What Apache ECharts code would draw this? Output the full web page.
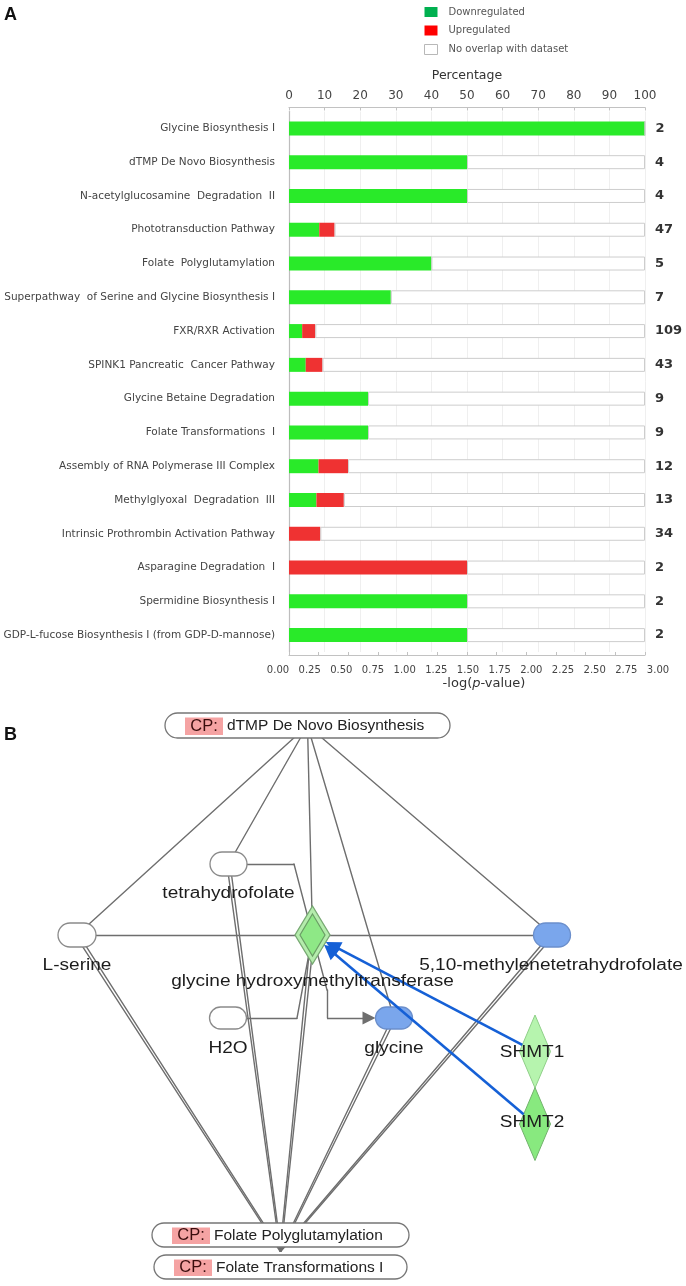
<!DOCTYPE html>
<html><head><meta charset="utf-8">
<script src="https://cdn.jsdelivr.net/npm/echarts@6/dist/echarts.min.js"></script>
<style>html,body{margin:0;padding:0;background:#fff}#c{width:686px;height:1286px}</style>
</head><body><div id="c"></div>
<script>
// ---------------- Panel A data ----------------
const pathways = [
  'Glycine Biosynthesis I',
  'dTMP De Novo Biosynthesis',
  'N-acetylglucosamine  Degradation  II',
  'Phototransduction Pathway',
  'Folate  Polyglutamylation',
  'Superpathway  of Serine and Glycine Biosynthesis I',
  'FXR/RXR Activation',
  'SPINK1 Pancreatic  Cancer Pathway',
  'Glycine Betaine Degradation',
  'Folate Transformations  I',
  'Assembly of RNA Polymerase III Complex',
  'Methylglyoxal  Degradation  III',
  'Intrinsic Prothrombin Activation Pathway',
  'Asparagine Degradation  I',
  'Spermidine Biosynthesis I',
  'GDP-L-fucose Biosynthesis I (from GDP-D-mannose)'
];
const downregulatedPct = [100, 50, 50, 8.5, 40, 28.6, 3.7, 4.7, 22.2, 22.2, 8.3, 7.7, 0, 0, 50, 50];
const upregulatedPct   = [0, 0, 0, 4.3, 0, 0, 3.7, 4.7, 0, 0, 8.3, 7.7, 8.8, 50, 0, 0];
const pathwayTotals    = [2, 4, 4, 47, 5, 7, 109, 43, 9, 9, 12, 13, 34, 2, 2, 2];
const noOverlapPct = downregulatedPct.map((d, i) => +(100 - d - upregulatedPct[i]).toFixed(2));
const percentRange = [0, 100];
const pValueRange = [0, 3];

// ---------------- Panel B data ----------------
const nodeIds    = ['cpTop', 'thf', 'ser', 'ghmt', 'mthf', 'h2o', 'gly', 'shmt1', 'shmt2', 'cpPoly', 'cpTrans'];
const nodeLabels = ['dTMP De Novo Biosynthesis', 'tetrahydrofolate', 'L-serine', 'glycine hydroxymethyltransferase',
  '5,10-methylenetetrahydrofolate', 'H2O', 'glycine', 'SHMT1', 'SHMT2', 'Folate Polyglutamylation', 'Folate Transformations I'];
const nodeKinds  = ['pathway', 'chemical', 'chemical', 'enzyme', 'chemical', 'chemical', 'chemical', 'gene', 'gene', 'pathway', 'pathway'];
const nodeState  = ['none', 'none', 'none', 'down', 'measured', 'none', 'measured', 'downLight', 'down', 'none', 'none'];
const dTMPMembers = ['ser', 'thf', 'ghmt', 'gly', 'mthf'];
const folatePolyMembers = ['ser', 'thf', 'ghmt', 'gly', 'mthf'];
const folateTransMembers = ['ser', 'thf', 'ghmt', 'gly', 'mthf'];
const reactionEdges = [['ser', 'ghmt'], ['ghmt', 'mthf'], ['thf', 'ghmt'], ['h2o', 'ghmt']];
const productEdges = [['ghmt', 'gly']];
const regulationEdges = [['shmt1', 'ghmt'], ['shmt2', 'ghmt']];

// diagram layout (diagram coordinate space, mapped through hidden axes)
const nodeLayout = {
  cpTop:  {x: 307.5, y: 725.5, w: 285, h: 25},
  thf:    {x: 228.5, y: 864,   w: 37,  h: 24},
  ser:    {x: 77,    y: 935,   w: 38,  h: 24},
  ghmt:   {x: 312.5, y: 935,   w: 35,  h: 58},
  mthf:   {x: 552,   y: 935,   w: 37,  h: 24},
  h2o:    {x: 228,   y: 1018,  w: 37,  h: 22},
  gly:    {x: 394,   y: 1018,  w: 37,  h: 22},
  shmt1:  {x: 535,   y: 1051.5,w: 31,  h: 73},
  shmt2:  {x: 535,   y: 1124,  w: 31,  h: 73},
  cpPoly: {x: 280.5, y: 1235,  w: 257, h: 24},
  cpTrans:{x: 280.5, y: 1267,  w: 253, h: 24}
};
const labelOffset = {thf: [0, 30], ser: [0, 31], ghmt: [0, 47], mthf: [-1, 31], h2o: [0, 31], gly: [0, 31], shmt1: [-3, 1.5], shmt2: [-3, -1]};
const edgeBends = {'thf>ghmt': [[294, 864]], 'h2o>ghmt': [[297, 1018]], 'ghmt>gly': [[327, 990], [327, 1018]]};

const stateFill = {none: '#ffffff', measured: '#7aa6ec', down: '#88e97f', downLight: '#b6f4ae'};
const stateStroke = {none: '#8a8a8a', measured: '#6b8fcc', down: '#72b26c', downLight: '#8fcf88'};

// ---------- geometry helpers ----------
function ctr(id) { const L = nodeLayout[id]; return [L.x, L.y]; }
function shapeOf(id) { const k = nodeKinds[nodeIds.indexOf(id)]; return (k === 'enzyme' || k === 'gene') ? 'diamond' : 'rect'; }
function boundary(id, toward) {
  const L = nodeLayout[id];
  const dx = toward[0] - L.x, dy = toward[1] - L.y, len = Math.hypot(dx, dy);
  const ux = dx / len, uy = dy / len;
  let t;
  if (shapeOf(id) === 'diamond') t = 1 / (Math.abs(ux) / (L.w / 2) + Math.abs(uy) / (L.h / 2));
  else t = Math.min(Math.abs(ux) > 1e-9 ? (L.w / 2) / Math.abs(ux) : Infinity, Math.abs(uy) > 1e-9 ? (L.h / 2) / Math.abs(uy) : Infinity);
  return [L.x + ux * t, L.y + uy * t];
}
function pathPoints(a, b) {
  return [ctr(a)].concat(edgeBends[a + '>' + b] || []).concat([ctr(b)]);
}
const greySegs = [], greyArrowSegs = [], blueArrowSegs = [];
function pushPath(pts, plainList, arrowList, arrowLen, clipStartId, endId) {
  const n = pts.length;
  if (clipStartId) pts[0] = boundary(clipStartId, pts[1]);
  for (let i = 0; i < n - 2; i++) plainList.push({coords: [pts[i], pts[i + 1]]});
  const prev = pts[n - 2];
  if (arrowList) {
    const tip = boundary(endId, prev);
    const dx = tip[0] - prev[0], dy = tip[1] - prev[1], len = Math.hypot(dx, dy);
    const end = [tip[0] - dx / len * arrowLen / 2, tip[1] - dy / len * arrowLen / 2];
    arrowList.push({coords: [prev, end]});
  } else plainList.push({coords: [prev, pts[n - 1]]});
}
// stacked canonical-pathway boxes: edges meet at the centre of the stack, drawn as parallel pair
function pushStackedEdge(member, side) {
  const a = ctr(member);
  const hub = [(nodeLayout.cpPoly.x + nodeLayout.cpTrans.x) / 2, (nodeLayout.cpPoly.y + nodeLayout.cpTrans.y) / 2];
  const dx = hub[0] - a[0], dy = hub[1] - a[1], len = Math.hypot(dx, dy);
  const px = -dy / len * 1.6 * side, py = dx / len * 1.6 * side;
  greySegs.push({coords: [[a[0] + px, a[1] + py], [hub[0] + px * 0.3, hub[1] + py * 0.3]]});
}
dTMPMembers.forEach(m => pushPath(pathPoints('cpTop', m), greySegs));
folatePolyMembers.forEach(m => pushStackedEdge(m, -1));
folateTransMembers.forEach(m => pushStackedEdge(m, 1));
reactionEdges.forEach(([a, b]) => pushPath(pathPoints(a, b), greySegs));
productEdges.forEach(([a, b]) => pushPath(pathPoints(a, b), greySegs, greyArrowSegs, 13, null, b));
regulationEdges.forEach(([a, b]) => pushPath(pathPoints(a, b), blueArrowSegs, blueArrowSegs, 15, a, b));

const LABEL_FONT = '16px "Liberation Sans", Arial, sans-serif';

function renderNode(params, api) {
  const i = params.dataIndex, id = nodeIds[i], L = nodeLayout[id];
  const c = api.coord([api.value(0), api.value(1)]);
  const s = api.size([L.w, L.h], [api.value(0), api.value(1)]);
  const w = Math.abs(s[0]), h = Math.abs(s[1]);
  const kind = nodeKinds[i], st = nodeState[i];
  if (kind === 'pathway') {
    const left = c[0] - w / 2, top = c[1] - h / 2;
    return {type: 'group', children: [
      {type: 'rect', shape: {x: left, y: top, width: w, height: h, r: h / 2}, style: {fill: '#fff', stroke: '#767676', lineWidth: 1.3}},
      {type: 'rect', shape: {x: left + 20, y: top + 4.5, width: 38, height: h - 7.5}, style: {fill: '#f5a3a3'}},
      {type: 'text', style: {text: 'CP:', x: left + 39, y: c[1] + 0.5, align: 'center', verticalAlign: 'middle', font: '16.5px "Liberation Sans", Arial, sans-serif', fill: '#3a0d0d'}},
      {type: 'text', style: {text: nodeLabels[i], x: left + 62, y: c[1] + 0.5, align: 'left', verticalAlign: 'middle', font: '15.5px "Liberation Sans", Arial, sans-serif', fill: '#222'}}
    ]};
  }
  if (kind === 'chemical') {
    return {type: 'rect', shape: {x: c[0] - w / 2, y: c[1] - h / 2, width: w, height: h, r: h / 2},
      style: {fill: stateFill[st], stroke: stateStroke[st], lineWidth: 1.3}};
  }
  const dia = (hw, hh) => [[c[0], c[1] - hh], [c[0] + hw, c[1]], [c[0], c[1] + hh], [c[0] - hw, c[1]]];
  if (kind === 'enzyme') {
    return {type: 'group', children: [
      {type: 'polygon', shape: {points: dia(w / 2, h / 2)}, style: {fill: '#b4ecac', stroke: '#77a872', lineWidth: 1.3}},
      {type: 'polygon', shape: {points: dia(w / 2 - 5, h / 2 - 8)}, style: {fill: '#8ee886', stroke: '#6a9e65', lineWidth: 1.2}}
    ]};
  }
  return {type: 'polygon', shape: {points: dia(w / 2, h / 2)}, style: {fill: stateFill[st], stroke: stateStroke[st], lineWidth: 1}};
}
function renderLabel(params, api) {
  const i = params.dataIndex, id = nodeIds[i];
  const off = labelOffset[id];
  if (!off) return null;
  const c = api.coord([api.value(0), api.value(1)]);
  return {type: 'text', x: c[0] + off[0], y: c[1] + off[1], scaleX: 1.19,
    style: {text: nodeLabels[i], x: 0, y: 0, align: 'center', verticalAlign: 'middle', font: LABEL_FONT, fill: '#1c1c1c'}};
}
const nodeData = nodeIds.map(id => [nodeLayout[id].x, nodeLayout[id].y]);

const catFont = 'DejaVu Sans';
const option = {
  animation: false,
  textStyle: {fontFamily: catFont},
  legend: {
    orient: 'vertical', left: 419, top: 2, itemWidth: 13, itemHeight: 10, itemGap: 8.5, icon: 'rect',
    selectedMode: false,
    textStyle: {fontSize: 10, color: '#555', padding: [0, 0, 0, 6], fontFamily: catFont},
    data: [
      {name: 'Downregulated', itemStyle: {color: '#00b050'}},
      {name: 'Upregulated', itemStyle: {color: '#ff0000'}},
      {name: 'No overlap with dataset', itemStyle: {color: '#ffffff', borderColor: '#b8b8b8', borderWidth: 1}}
    ]
  },
  graphic: [
    {type: 'text', left: 4, top: 6, style: {text: 'A', font: 'bold 18px "Liberation Sans", Arial, sans-serif', fill: '#111'}},
    {type: 'text', left: 4, top: 726, style: {text: 'B', font: 'bold 18px "Liberation Sans", Arial, sans-serif', fill: '#111'}}
  ],
  grid: [
    {left: 289, right: 41, top: 111.5, bottom: 634, outerBoundsMode: 'none'},
    {left: 278, right: 28, top: 640, bottom: 631, outerBoundsMode: 'none'},
    {left: 0, right: 0, top: 690, bottom: 0, outerBoundsMode: 'none'}
  ],
  xAxis: [
    {gridIndex: 0, type: 'value', position: 'top', offset: 4, min: percentRange[0], max: percentRange[1], interval: 10,
      name: 'Percentage', nameLocation: 'middle', nameGap: 25,
      nameTextStyle: {fontSize: 12.5, color: '#333', fontFamily: catFont},
      axisLine: {show: true, lineStyle: {color: '#c2c2c2', width: 1.2}},
      axisTick: {show: true, inside: true, length: 3, lineStyle: {color: '#c2c2c2'}},
      axisLabel: {fontSize: 12, color: '#444', margin: 6, showMinLabel: true, showMaxLabel: true},
      splitLine: {show: true, lineStyle: {color: '#efefef', width: 1}}},
    {gridIndex: 0, type: 'value', position: 'bottom', offset: 3, min: pValueRange[0], max: pValueRange[1], interval: 0.25,
      axisLine: {show: true, lineStyle: {color: '#c2c2c2', width: 1.2}},
      axisTick: {show: true, inside: true, length: 3, lineStyle: {color: '#c2c2c2'}},
      axisLabel: {show: false}, splitLine: {show: false}},
    {gridIndex: 1, type: 'value', position: 'bottom', min: pValueRange[0], max: pValueRange[1], interval: 0.25,
      axisLine: {show: false}, axisTick: {show: false}, splitLine: {show: false},
      axisLabel: {fontSize: 10, color: '#444', margin: 10, formatter: v => v.toFixed(2), showMinLabel: true, showMaxLabel: true},
      name: '-log({i|p}-value)', nameLocation: 'middle', nameGap: 22,
      nameTextStyle: {fontSize: 13, color: '#333', padding: [0, 0, 0, 32], fontFamily: catFont,
        rich: {i: {fontStyle: 'italic', fontSize: 13, color: '#333', fontFamily: catFont}}}},
    {gridIndex: 2, type: 'value', min: 0, max: 686, show: false}
  ],
  yAxis: [
    {gridIndex: 0, type: 'category', inverse: true, data: pathways,
      axisLine: {show: true, lineStyle: {color: '#bdbdbd', width: 1.2}}, axisTick: {show: false},
      axisLabel: {fontSize: 10.5, color: '#444', margin: 14, interval: 0, fontFamily: catFont}},
    {gridIndex: 1, type: 'value', show: false, min: 0, max: 1},
    {gridIndex: 2, type: 'value', min: 690, max: 1286, inverse: true, show: false}
  ],
  series: [
    {name: 'Downregulated', type: 'bar', stack: 'pct', xAxisIndex: 0, yAxisIndex: 0, barWidth: 14,
      itemStyle: {color: '#29ea29'}, data: downregulatedPct},
    {name: 'Upregulated', type: 'bar', stack: 'pct', xAxisIndex: 0, yAxisIndex: 0, barWidth: 14,
      itemStyle: {color: '#ef3232'}, data: upregulatedPct},
    {name: 'No overlap with dataset', type: 'bar', stack: 'pct', xAxisIndex: 0, yAxisIndex: 0, barWidth: 14,
      itemStyle: {color: '#ffffff', borderColor: '#cdcdcd', borderWidth: 1}, data: noOverlapPct,
      label: {show: true, position: 'right', distance: 10, formatter: p => String(pathwayTotals[p.dataIndex]),
        fontSize: 13, fontWeight: 'bold', color: '#333', fontFamily: catFont}},
    {type: 'lines', coordinateSystem: 'cartesian2d', xAxisIndex: 3, yAxisIndex: 2, z: 2, silent: true,
      polyline: false, symbol: ['none', 'none'], lineStyle: {color: '#6e6e6e', width: 1.4, opacity: 1, curveness: 0, cap: 'round'},
      data: greySegs},
    {type: 'lines', coordinateSystem: 'cartesian2d', xAxisIndex: 3, yAxisIndex: 2, z: 2, silent: true,
      symbol: ['none', 'triangle'], symbolSize: 13, lineStyle: {color: '#6e6e6e', width: 1.4, opacity: 1, curveness: 0},
      itemStyle: {color: '#6e6e6e'}, data: greyArrowSegs},
    {type: 'custom', coordinateSystem: 'cartesian2d', xAxisIndex: 3, yAxisIndex: 2, z: 3, silent: true, clip: false,
      renderItem: renderNode, encode: {x: 0, y: 1}, data: nodeData},
    {type: 'lines', coordinateSystem: 'cartesian2d', xAxisIndex: 3, yAxisIndex: 2, z: 4, silent: true,
      symbol: ['none', 'triangle'], symbolSize: 15, lineStyle: {color: '#1560d6', width: 2.6, opacity: 1, curveness: 0},
      data: blueArrowSegs},
    {type: 'custom', coordinateSystem: 'cartesian2d', xAxisIndex: 3, yAxisIndex: 2, z: 5, silent: true, clip: false,
      renderItem: renderLabel, encode: {x: 0, y: 1}, data: nodeData}
  ]
};
const chart = echarts.init(document.getElementById('c'), null, {renderer: 'canvas'});
chart.setOption(option);
</script>
</body></html>
